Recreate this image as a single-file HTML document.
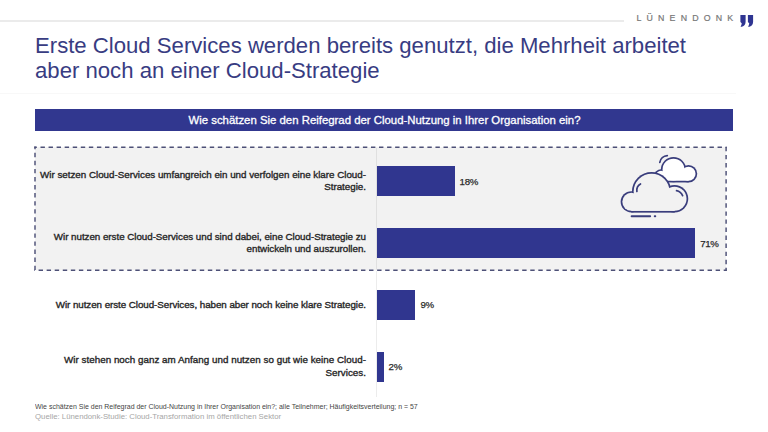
<!DOCTYPE html>
<html><head><meta charset="utf-8">
<style>
*{margin:0;padding:0;box-sizing:border-box}
html,body{width:768px;height:432px;overflow:hidden;background:#fff}
body{position:relative;font-family:"Liberation Sans",sans-serif}
.abs{position:absolute;white-space:nowrap}
.topline{position:absolute;left:0;top:20px;width:624px;height:2px;background:#ebebeb}
.logo{position:absolute;left:636.4px;top:12px;font-size:8.8px;line-height:12px;letter-spacing:5.2px;color:#777;-webkit-text-stroke:0.2px #777}
.title{position:absolute;left:35px;top:34.1px;font-size:22.15px;line-height:24.6px;color:#383c82}
.faint{position:absolute;left:0;top:93px;width:736px;height:1px;background:#f8f8f8}
.hdr{position:absolute;left:35px;top:109px;width:698px;height:22.4px;background:#31378f;color:#fff;font-size:11.39px;line-height:23px;padding-left:1px;text-align:center;-webkit-text-stroke:0.3px #fff}
.lbl{position:absolute;right:402px;font-size:9.8px;line-height:12.8px;color:#262626;text-align:right;white-space:nowrap;-webkit-text-stroke:0.35px #262626}
.bar{position:absolute;left:377px;height:30px;background:#30368f}
.pct{position:absolute;font-size:9.7px;line-height:12px;color:#2b2b2b;-webkit-text-stroke:0.25px #2b2b2b;letter-spacing:-0.35px}
.foot{position:absolute;left:35px;font-size:7px;line-height:9px;white-space:nowrap}
</style></head><body>
<div class="topline"></div>
<div class="logo">LÜNENDONK</div>
<svg class="abs" style="left:0;top:0" width="768" height="432" viewBox="0 0 768 432">
  <!-- quote mark -->
  <g fill="#2f3592">
    <path d="M740.4 15.1H745.6V21.8C745.6 24.4 744.3 26 742 26.7L740.5 26.7C741.3 25.6 741.6 24.6 741.7 23.2L740.4 22Z"/>
    <path d="M747.9 15.1H753.1V21.8C753.1 24.4 751.8 26 749.5 26.7L748 26.7C748.8 25.6 749.1 24.6 749.2 23.2L747.9 22Z"/>
  </g>
</svg>
<div class="title">Erste Cloud Services werden bereits genutzt, die Mehrheit arbeitet<br>aber noch an einer Cloud-Strategie</div>
<div class="faint"></div>
<div class="hdr">Wie schätzen Sie den Reifegrad der Cloud-Nutzung in Ihrer Organisation ein?</div>

<svg class="abs" style="left:0;top:0" width="768" height="432" viewBox="0 0 768 432">
  <rect x="35" y="147.2" width="691" height="123.1" fill="#f2f2f2"/>
  <g stroke="#4d5077" stroke-width="1.45" fill="none">
    <line x1="34.3" y1="147.2" x2="726.7" y2="147.2" stroke-dasharray="4.4 3.66" stroke-dashoffset="1.86"/>
    <line x1="726.1" y1="146.5" x2="726.1" y2="271" stroke-dasharray="4.4 3.66" stroke-dashoffset="-0.4"/>
    <line x1="34.3" y1="270.3" x2="726.7" y2="270.3" stroke-dasharray="4.4 3.66" stroke-dashoffset="3.76"/>
    <line x1="35" y1="146.5" x2="35" y2="271" stroke-dasharray="4.4 3.66" stroke-dashoffset="1.76"/>
  </g>
  <line x1="376.5" y1="148" x2="376.5" y2="269.6" stroke="#e0e0e0" stroke-width="1"/>
  <line x1="376.5" y1="271" x2="376.5" y2="397" stroke="#ececec" stroke-width="1"/>
</svg>

<div class="bar" style="top:166px;width:78px"></div>
<div class="bar" style="top:228px;width:318px;height:29.5px"></div>
<div class="bar" style="top:290px;width:38.3px"></div>
<div class="bar" style="top:351.5px;width:6.8px"></div>

<div class="pct" style="left:459.6px;top:175.5px">18%</div>
<div class="pct" style="left:700.2px;top:237.6px">71%</div>
<div class="pct" style="left:420.5px;top:299.3px">9%</div>
<div class="pct" style="left:388.6px;top:361.2px">2%</div>

<div class="lbl" style="top:168.7px;letter-spacing:-0.011px">Wir setzen Cloud-Services umfangreich ein und verfolgen eine klare Cloud-<br>Strategie.</div>
<div class="lbl" style="top:230.7px;letter-spacing:-0.036px">Wir nutzen erste Cloud-Services und sind dabei, eine Cloud-Strategie zu<br>entwickeln und auszurollen.</div>
<div class="lbl" style="top:298.8px;letter-spacing:-0.055px">Wir nutzen erste Cloud-Services, haben aber noch keine klare Strategie.</div>
<div class="lbl" style="top:353.9px;letter-spacing:0.029px">Wir stehen noch ganz am Anfang und nutzen so gut wie keine Cloud-<br>Services.</div>

<!-- cloud icon -->
<svg class="abs" style="left:0;top:0" width="768" height="432" viewBox="0 0 768 432">
<circle cx="673.5" cy="169.6" r="12.65" fill="#393d7c"/><circle cx="688.5" cy="173.7" r="8.75" fill="#393d7c"/><circle cx="661" cy="176" r="6.85" fill="#393d7c"/><rect x="661" y="172" width="27.50" height="10.45" fill="#393d7c"/>
<circle cx="673.5" cy="169.6" r="10.95" fill="#ffffff"/><circle cx="688.5" cy="173.7" r="7.05" fill="#ffffff"/><circle cx="661" cy="176" r="5.15" fill="#ffffff"/><rect x="661" y="172" width="27.50" height="8.75" fill="#ffffff"/>
<circle cx="631.3" cy="201.8" r="10.65" fill="#393d7c"/><circle cx="651.6" cy="191.6" r="19.65" fill="#393d7c"/><circle cx="674.5" cy="198.8" r="13.75" fill="#393d7c"/><rect x="631.3" y="199" width="43.40" height="13.65" fill="#393d7c"/>
<circle cx="631.3" cy="201.8" r="8.95" fill="#f2f2f2"/><circle cx="651.6" cy="191.6" r="17.95" fill="#f2f2f2"/><circle cx="674.5" cy="198.8" r="12.05" fill="#f2f2f2"/><rect x="631.3" y="199" width="43.40" height="11.95" fill="#f2f2f2"/>
<g fill="none" stroke="#393d7c" stroke-width="1.7" stroke-linecap="round">
<path d="M636.9 191.5 A7.5 7.5 0 0 1 640.5 183.9"/>
<path d="M676.53 190.7 A8.6 8.6 0 0 1 682.6 195.7"/>
<path d="M659.8 162.3 A8 8 0 0 1 667.3 155.6"/>
<line x1="631.6" y1="216.2" x2="650.2" y2="216.2" stroke-width="1.9"/>
<line x1="654.7" y1="216.2" x2="655.3" y2="216.2" stroke-width="1.9"/>
</g>
</svg>

<div class="foot" style="top:402.3px;color:#444;font-size:7.6px;transform:scaleX(0.9175);transform-origin:0 0">Wie schätzen Sie den Reifegrad der Cloud-Nutzung in Ihrer Organisation ein?; alle Teilnehmer; Häufigkeitsverteilung; n = 57</div>
<div class="foot" style="top:411.8px;color:#a6a6a6;font-size:7.79px">Quelle: Lünendonk-Studie: Cloud-Transformation im öffentlichen Sektor</div>
</body></html>
